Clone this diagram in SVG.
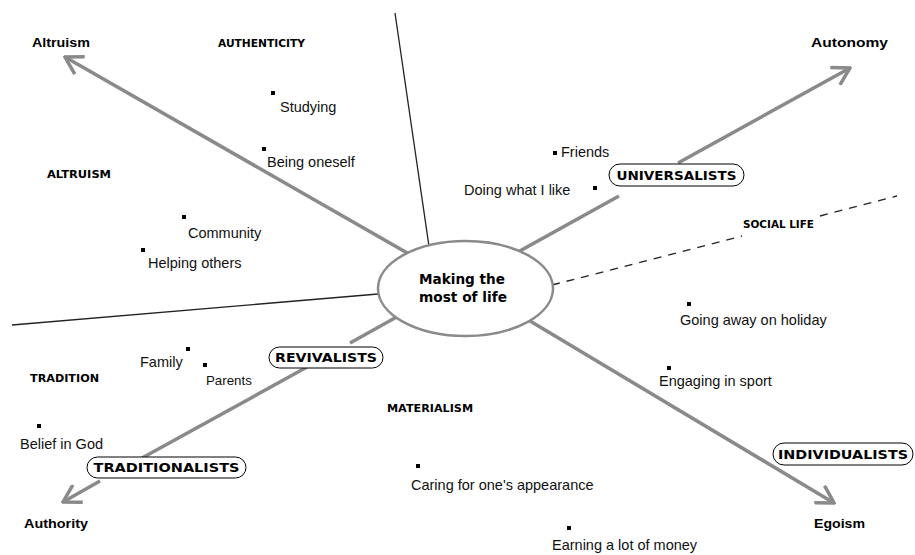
<svg xmlns="http://www.w3.org/2000/svg" width="915" height="555" viewBox="0 0 915 555">
<style>
.ax{stroke:#8a8a8a;stroke-width:3.5;fill:none;stroke-linecap:butt}
.thin{stroke:#222;stroke-width:1.3;fill:none}
.pole{font-family:"Liberation Sans",Arial,sans-serif;font-weight:bold;font-size:13.5px;fill:#000}
.cat{font-family:"DejaVu Sans",Verdana,sans-serif;font-weight:bold;font-size:10.5px;fill:#000}
.item{font-family:"Liberation Sans",Arial,sans-serif;font-size:14.5px;fill:#111}
.grp{font-family:"DejaVu Sans",Verdana,sans-serif;font-weight:bold;font-size:13px;fill:#000}
.box{fill:#fff;stroke:#000;stroke-width:1}
.blt{fill:#000}
.ctr{font-family:"DejaVu Sans",Verdana,sans-serif;font-weight:bold;font-size:13.5px;fill:#000}
</style>
<defs>
<marker id="ah" viewBox="0 0 22 22" refX="20" refY="11" markerWidth="22" markerHeight="22" orient="auto" markerUnits="userSpaceOnUse">
<path d="M3,1 L20,11 L3,21" fill="none" stroke="#8a8a8a" stroke-width="3.5"/>
</marker>
</defs>
<rect width="915" height="555" fill="#fff"/>
<g id="connectors">
<line class="thin" x1="395" y1="13" x2="431" y2="260"/>
<line class="thin" x1="12" y1="325" x2="390" y2="293"/>
<line class="thin" x1="552" y1="285" x2="742" y2="236" stroke-dasharray="8,7"/>
<line class="thin" x1="820" y1="216" x2="897" y2="196" stroke-dasharray="8,7"/>
<line class="ax" x1="430" y1="266" x2="65" y2="57" marker-end="url(#ah)"/>
<line class="ax" x1="500" y1="262" x2="619" y2="196"/>
<line class="ax" x1="678" y1="163" x2="850" y2="68" marker-end="url(#ah)"/>
<line class="ax" x1="420" y1="304" x2="350" y2="343"/>
<line class="ax" x1="307" y1="367" x2="142" y2="458"/>
<line class="ax" x1="100" y1="481" x2="63" y2="502" marker-end="url(#ah)"/>
<line class="ax" x1="510" y1="309" x2="834" y2="503" marker-end="url(#ah)"/>
</g>
<g id="center">
<ellipse cx="465.5" cy="288.5" rx="87.5" ry="47.5" fill="#fff" stroke="#8a8a8a" stroke-width="2.5"/>
<text class="ctr" x="462" y="284" text-anchor="middle" textLength="86" lengthAdjust="spacingAndGlyphs">Making the</text>
<text class="ctr" x="463" y="302" text-anchor="middle" textLength="88" lengthAdjust="spacingAndGlyphs">most of life</text>
</g>
<g id="poles">
<text class="pole" x="32" y="47" textLength="58" lengthAdjust="spacingAndGlyphs">Altruism</text>
<text class="pole" x="811" y="47" textLength="77" lengthAdjust="spacingAndGlyphs">Autonomy</text>
<text class="pole" x="24" y="528" textLength="64" lengthAdjust="spacingAndGlyphs">Authority</text>
<text class="pole" x="814" y="528" textLength="51" lengthAdjust="spacingAndGlyphs">Egoism</text>
</g>
<g id="categories">
<text class="cat" x="218" y="47" textLength="87" lengthAdjust="spacingAndGlyphs">AUTHENTICITY</text>
<text class="cat" x="47" y="178" textLength="64" lengthAdjust="spacingAndGlyphs">ALTRUISM</text>
<text class="cat" x="743" y="228" textLength="71" lengthAdjust="spacingAndGlyphs">SOCIAL LIFE</text>
<text class="cat" x="30" y="382" textLength="69" lengthAdjust="spacingAndGlyphs">TRADITION</text>
<text class="cat" x="387" y="412" textLength="86" lengthAdjust="spacingAndGlyphs">MATERIALISM</text>
</g>
<g id="universalists">
<rect class="box" x="609" y="164" width="135" height="22" rx="11"/>
<text class="grp" x="676.5" y="180" text-anchor="middle" textLength="120" lengthAdjust="spacingAndGlyphs">UNIVERSALISTS</text>
</g>
<g id="revivalists">
<rect class="box" x="269" y="347" width="114" height="21" rx="10.5"/>
<text class="grp" x="326" y="362" text-anchor="middle" textLength="102" lengthAdjust="spacingAndGlyphs">REVIVALISTS</text>
</g>
<g id="traditionalists">
<rect class="box" x="87" y="457" width="159" height="21" rx="10.5"/>
<text class="grp" x="166.5" y="472" text-anchor="middle" textLength="146" lengthAdjust="spacingAndGlyphs">TRADITIONALISTS</text>
</g>
<g id="individualists">
<rect class="box" x="773" y="443" width="140" height="22" rx="11"/>
<text class="grp" x="843" y="459" text-anchor="middle" textLength="130" lengthAdjust="spacingAndGlyphs">INDIVIDUALISTS</text>
</g>
<g id="items">
<rect class="blt" x="271" y="91" width="4" height="4"/><text class="item" x="280" y="112">Studying</text>
<rect class="blt" x="262" y="147" width="4" height="4"/><text class="item" x="267" y="167">Being oneself</text>
<rect class="blt" x="182" y="215" width="4" height="4"/><text class="item" x="188" y="238">Community</text>
<rect class="blt" x="141" y="248" width="4" height="4"/><text class="item" x="148" y="268">Helping others</text>
<rect class="blt" x="553" y="151" width="4" height="4"/><text class="item" x="561" y="157">Friends</text>
<rect class="blt" x="593" y="186" width="4" height="4"/><text class="item" x="464" y="195">Doing what I like</text>
<rect class="blt" x="687" y="302" width="4" height="4"/><text class="item" x="680" y="325">Going away on holiday</text>
<rect class="blt" x="667" y="366" width="4" height="4"/><text class="item" x="659" y="386">Engaging in sport</text>
<rect class="blt" x="186" y="347" width="4" height="4"/><text class="item" x="140" y="367">Family</text>
<rect class="blt" x="203" y="363" width="4" height="4"/><text class="item" x="206" y="385" style="font-size:13.3px">Parents</text>
<rect class="blt" x="37" y="424" width="4" height="4"/><text class="item" x="20" y="449">Belief in God</text>
<rect class="blt" x="416" y="464" width="4" height="4"/><text class="item" x="411" y="490">Caring for one's appearance</text>
<rect class="blt" x="567" y="526" width="4" height="4"/><text class="item" x="552" y="550">Earning a lot of money</text>
</g>
</svg>
